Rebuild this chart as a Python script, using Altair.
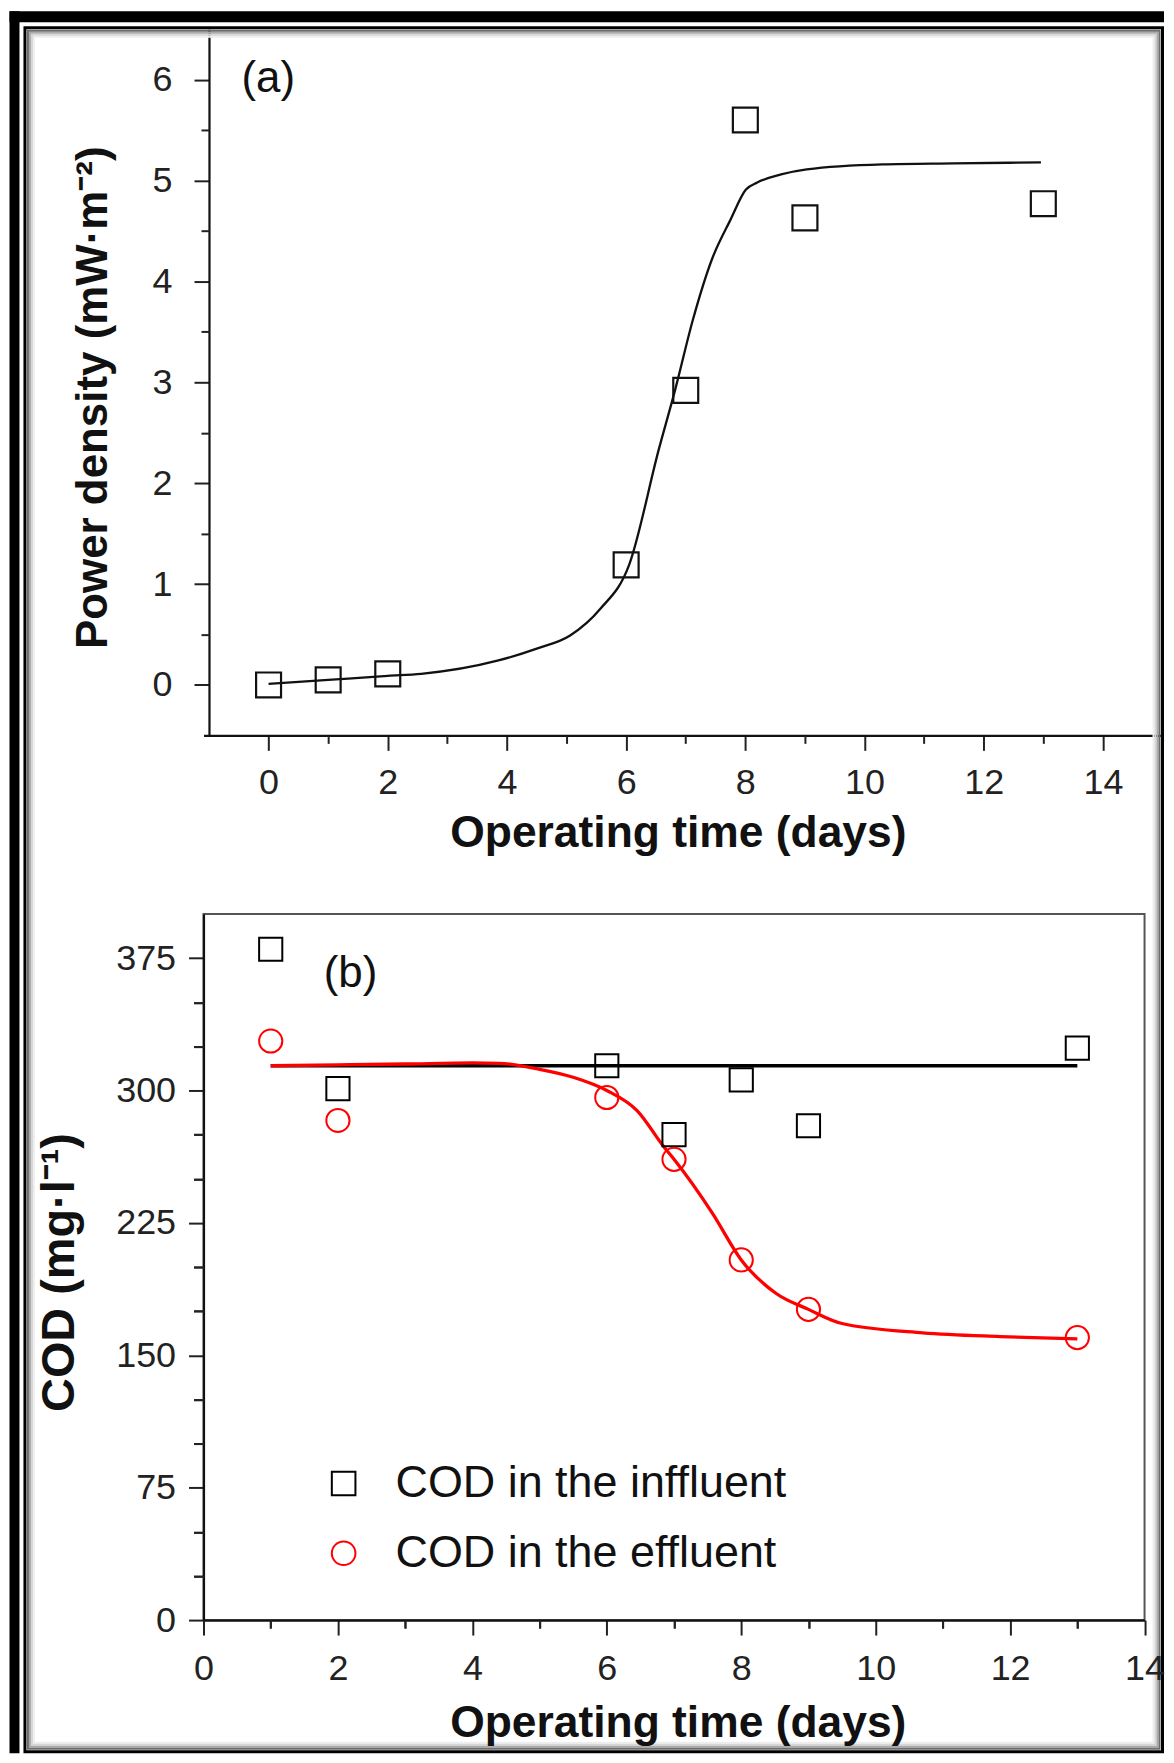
import altair as alt
import pandas as pd

FONT = "Liberation Sans"
INK = "#111111"

# ---------------- Panel (a): power density ----------------
a_days = [0, 1, 2, 6, 7, 8, 9, 13]
a_power = [0.00, 0.05, 0.11, 1.19, 2.92, 5.60, 4.63, 4.77]
a_fit_days = [0, 1, 2, 2.56, 3.84, 4.5, 5.06, 5.56, 6.05, 6.55, 6.82, 7.12,
              7.44, 7.75, 8.01, 8.2, 8.6, 9.03, 10.3, 11.5, 12.96]
a_fit_power = [0.01, 0.05, 0.09, 0.11, 0.24, 0.36, 0.49, 0.75, 1.19, 2.34, 2.92, 3.62,
               4.22, 4.61, 4.91, 4.98, 5.06, 5.11, 5.16, 5.17, 5.18]

# ---------------- Panel (b): COD ----------------
b_days = [1, 2, 6, 7, 8, 9, 13]
b_cod_in = [380, 301, 314, 275, 306, 280, 324]
b_cod_out = [328, 283, 296, 261, 204, 176, 160]
b_fit_in_days = [1, 13]
b_fit_in = [314, 314]
b_fit_out_days = [1, 2, 3, 4, 4.4, 5.0, 5.5, 6.0, 6.45, 6.85, 7.0, 7.57, 8.0,
                  8.52, 9.0, 9.5, 10.7, 11.85, 13]
b_fit_out = [314, 314.5, 315, 315.6, 315.4, 312, 307.5, 300, 288.6, 268, 261, 230.5, 204,
             185, 176, 168, 162.7, 160.6, 159.3]
series_names = ["COD in the inffluent", "COD in the effluent"]

# tick values / labels
a_x_major = [0, 2, 4, 6, 8, 10, 12, 14]
a_x_minor = [1, 3, 5, 7, 9, 11, 13]
a_y_major = [0, 1, 2, 3, 4, 5, 6]
a_y_minor = [0.5, 1.5, 2.5, 3.5, 4.5, 5.5]
b_x_major = [0, 2, 4, 6, 8, 10, 12, 14]
b_x_minor = [1, 3, 5, 7, 9, 11, 13]
b_y_major = [0, 75, 150, 225, 300, 375]
b_y_minor = [25, 50, 100, 125, 175, 200, 250, 275, 325, 350]

# ---------------- data frames ----------------
df_a_pts = pd.DataFrame({"day": a_days, "power": a_power})
df_a_fit = pd.DataFrame({"day": a_fit_days, "power": a_fit_power})
df_b_pts = pd.concat([
    pd.DataFrame({"day": b_days, "cod": b_cod_in, "series": series_names[0]}),
    pd.DataFrame({"day": b_days, "cod": b_cod_out, "series": series_names[1]}),
], ignore_index=True)
df_b_fit_in = pd.DataFrame({"day": b_fit_in_days, "cod": b_fit_in})
df_b_fit_out = pd.DataFrame({"day": b_fit_out_days, "cod": b_fit_out})
one = pd.DataFrame({"k": [0]})

# ---------------- sizes ----------------
WA, HA = 961.5, 708
WB, HB = 943.5, 708
GAP = 179


def x_major(values, pad, tx, ty):
    return alt.Axis(orient="bottom", values=values, format="d", tickSize=15,
                    labelFontSize=36, labelPadding=pad, labelFlush=False,
                    labelOverlap=False, title="Operating time (days)",
                    titleFontSize=44.5, titleFontWeight="bold", titleX=tx, titleY=ty,
                    titleBaseline="alphabetic")


def x_minor(values):
    return alt.Axis(orient="bottom", values=values, labels=False, domain=False,
                    tickSize=8, title=None)


def y_major(values, pad, title, tsize, tx, ty, offset):
    return alt.Axis(orient="left", values=values, format="d", tickSize=15,
                    labelFontSize=36, labelPadding=pad, labelOverlap=False,
                    labelFlush=False, title=title, titleFontSize=tsize,
                    titleFontWeight="bold", titleX=tx, titleY=ty,
                    titleBaseline="alphabetic", offset=offset)


def y_minor(values, offset, size):
    return alt.Axis(orient="left", values=values, labels=False, domain=False,
                    tickSize=size, title=None, offset=offset)


# ---------------- panel (a) ----------------
xs_a = alt.Scale(domain=[-1.092, 15], nice=False, zero=False)
ys_a = alt.Scale(domain=[-0.5, 6.5], nice=False, zero=False)

a_line = alt.Chart(df_a_fit).mark_line(color=INK, strokeWidth=2.3, interpolate="monotone").encode(
    x=alt.X("day:Q", scale=xs_a, axis=x_major(a_x_major, 15, 475.6, 111)),
    y=alt.Y("power:Q", scale=ys_a,
            axis=y_major(a_y_major, 22, "Power density (mW·m⁻²)", 44, -103, 369, -5.5)),
)
a_pts = alt.Chart(df_a_pts).mark_point(shape="square", filled=False, color=INK,
                                       strokeWidth=2.2, size=625, opacity=1).encode(
    x=alt.X("day:Q", scale=xs_a, axis=x_minor(a_x_minor)),
    y=alt.Y("power:Q", scale=ys_a, axis=y_minor(a_y_minor, -5.5, 8)),
)
a_label = alt.Chart(one).mark_text(text="(a)", font=FONT, fontSize=44, align="left",
                                   baseline="alphabetic", color=INK).encode(
    x=alt.value(38), y=alt.value(63))

# decorative picture frame (drawn in panel (a) coordinates)
FX0, FX1, FY0, FY1 = -179, WA, -1.5, 1727
frame_parts = [
    alt.Chart(one).mark_rect(color="black").encode(
        x=alt.value(-194.5), x2=alt.value(WA + 1.5), y=alt.value(-18), y2=alt.value(-7)),
    alt.Chart(one).mark_rect(color="black").encode(
        x=alt.value(-194.5), x2=alt.value(-184.5), y=alt.value(-18), y2=alt.value(FY1 + 1.5)),
]
for d, col in [(9, "#eeeeee"), (7, "#d6d6d6"), (5, "#aaaaaa"), (3, "#6e6e6e")]:
    frame_parts.append(
        alt.Chart(one).mark_rect(fillOpacity=0, stroke=col, strokeWidth=2).encode(
            x=alt.value(FX0 + d), x2=alt.value(FX1 - d),
            y=alt.value(FY0 + d), y2=alt.value(FY1 - d)))
frame_parts.append(
    alt.Chart(one).mark_rect(fillOpacity=0, stroke="black", strokeWidth=3).encode(
        x=alt.value(FX0), x2=alt.value(FX1), y=alt.value(FY0), y2=alt.value(FY1)))

top = alt.layer(*frame_parts, a_line, a_pts, a_label).resolve_axis(
    x="independent", y="independent").properties(
    width=WA, height=HA, view=alt.ViewBackground(stroke="transparent"))

# ---------------- panel (b) ----------------
xs_b = alt.Scale(domain=[0, 14], nice=False)
ys_b = alt.Scale(domain=[0, 400], nice=False)

b_in = alt.Chart(df_b_fit_in).mark_line(color="black", strokeWidth=3.3).encode(
    x=alt.X("day:Q", scale=xs_b, axis=x_major(b_x_major, 17, 475.5, 117)),
    y=alt.Y("cod:Q", scale=ys_b,
            axis=y_major(b_y_major, 13, "COD (mg·l⁻¹)", 47, -130, 359, 0)),
)
b_out = alt.Chart(df_b_fit_out).mark_line(color="#ff0000", strokeWidth=3.3,
                                          interpolate="monotone").encode(
    x=alt.X("day:Q", scale=xs_b, axis=x_minor(b_x_minor)),
    y=alt.Y("cod:Q", scale=ys_b, axis=y_minor(b_y_minor, 0, 10)),
)
leg = alt.Legend(orient="none", legendX=118, legendY=548.5, direction="vertical",
                 title=None, padding=0, labelFont=FONT, labelFontSize=45,
                 labelColor=INK, labelOffset=29.5, rowPadding=24, symbolSize=560,
                 symbolStrokeWidth=2, labelLimit=1000)
b_pts = alt.Chart(df_b_pts).mark_point(filled=False, strokeWidth=2, size=540, opacity=1).encode(
    x=alt.X("day:Q", scale=xs_b, axis=x_minor(b_x_minor)),
    y=alt.Y("cod:Q", scale=ys_b, axis=y_minor(b_y_minor, 0, 10)),
    color=alt.Color("series:N", scale=alt.Scale(domain=series_names,
                                                range=["#000000", "#ff0000"]), legend=leg),
    shape=alt.Shape("series:N", scale=alt.Scale(domain=series_names,
                                                range=["square", "circle"]), legend=leg),
)
b_label = alt.Chart(one).mark_text(text="(b)", font=FONT, fontSize=44, align="left",
                                   baseline="alphabetic", color=INK).encode(
    x=alt.value(120.5), y=alt.value(73.2))

bottom = alt.layer(b_in, b_out, b_pts, b_label).resolve_axis(
    x="independent", y="independent").properties(width=WB, height=HB)

chart = alt.vconcat(top, bottom, spacing=GAP, bounds="flush", padding=0).resolve_legend(
    color="independent", shape="independent").configure_axis(
    grid=False, labelFont=FONT, titleFont=FONT, labelColor="#222222", titleColor=INK,
    domainColor=INK, domainWidth=2.2, tickColor="#222222", tickWidth=2,
).configure_view(stroke="#555555", strokeWidth=2)

chart.save("out.html", embed_options={"renderer": "svg", "actions": False})
